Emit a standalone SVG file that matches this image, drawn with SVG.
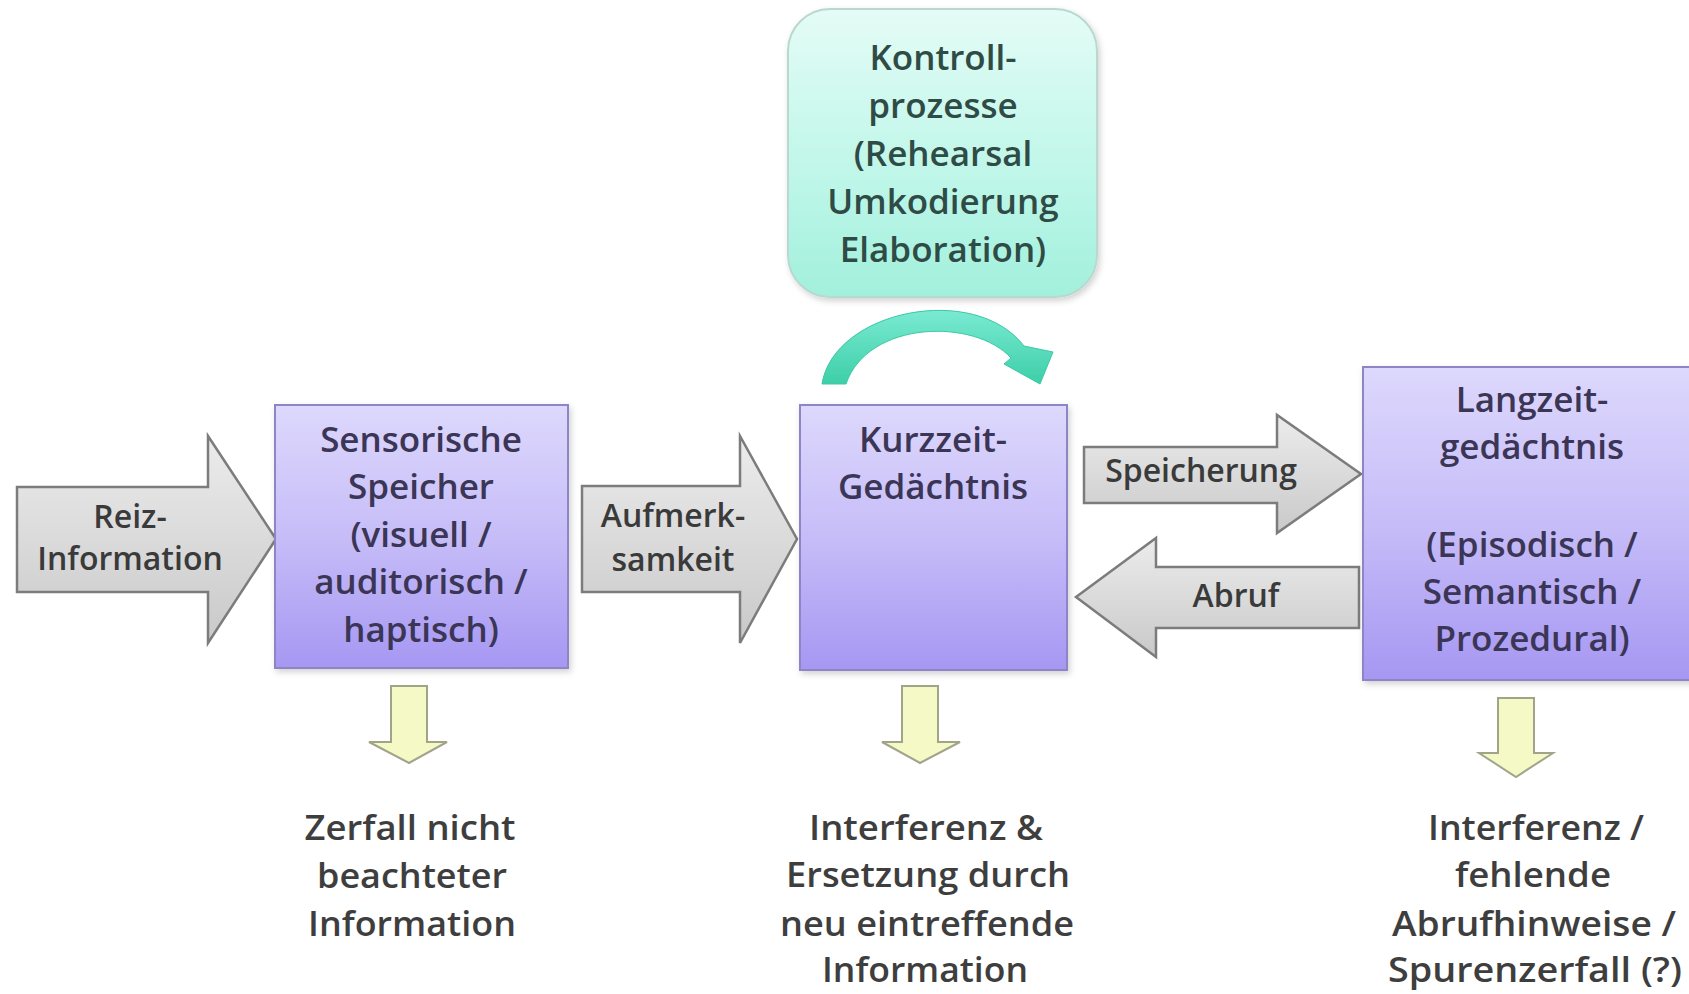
<svg xmlns="http://www.w3.org/2000/svg" width="1689" height="994" viewBox="0 0 1689 994">
<defs>
<linearGradient id="gPurple" x1="0" y1="0" x2="0" y2="1">
<stop offset="0" stop-color="#ddd8fc"/>
<stop offset="0.5" stop-color="#c6bdf8"/>
<stop offset="1" stop-color="#a697f2"/>
</linearGradient>
<linearGradient id="gTeal" x1="0" y1="0" x2="0" y2="1">
<stop offset="0" stop-color="#e4fcf6"/>
<stop offset="0.6" stop-color="#bdf6e8"/>
<stop offset="1" stop-color="#a2f0dc"/>
</linearGradient>
<linearGradient id="gGray" x1="0" y1="0" x2="0" y2="1">
<stop offset="0" stop-color="#ececec"/>
<stop offset="1" stop-color="#c9c9c9"/>
</linearGradient>
<linearGradient id="gCurve" x1="0" y1="0" x2="0" y2="1">
<stop offset="0" stop-color="#7aead2"/>
<stop offset="1" stop-color="#3dcfa8"/>
</linearGradient>
<filter id="shadow" x="-10%" y="-10%" width="120%" height="120%">
<feDropShadow dx="2" dy="3" stdDeviation="3" flood-color="#000" flood-opacity="0.18"/>
</filter>
</defs>
<style>
.box{fill:url(#gPurple);stroke:#8d85c6;stroke-width:2;filter:url(#shadow)}
.ctrl{fill:url(#gTeal);stroke:#b9d8d0;stroke-width:2;filter:url(#shadow)}
.garrow{fill:url(#gGray);stroke:#7c7c7c;stroke-width:2.5;stroke-linejoin:miter}
.yarrow{fill:#f5f9c6;stroke:#a2a48a;stroke-width:2;stroke-linejoin:miter}
.t{font-family:"Open Sans","Noto Sans",sans-serif;font-weight:600;text-anchor:middle}
.tb{fill:#3b3556;font-size:35px}
.tc{fill:#2f4b46;font-size:35px}
.ta{fill:#3a3a3a;font-size:32px}
.tl{fill:#3e3e3e;font-size:35px}
</style>

<g id="connectors">
<path class="garrow" d="M17 487 L208 487 L208 436 L276 539 L208 643 L208 592 L17 592 Z"/>
<path class="garrow" d="M582 486 L740 486 L740 436 L797 539 L740 643 L740 592 L582 592 Z"/>
<path class="garrow" d="M1084 447 L1277 447 L1277 415 L1361 474 L1277 533 L1277 503 L1084 503 Z"/>
<path class="garrow" d="M1359 567 L1156 567 L1156 538 L1076 597 L1156 657 L1156 628 L1359 628 Z"/>
<path fill="url(#gCurve)" stroke="#3cc9a4" stroke-width="1" d="M822 384 C 834 310, 975 282, 1024 346 L1053 352 L1040 384 L1004 364 L1011 358 C 975 318, 868 320, 846 384 Z"/>
<path class="yarrow" d="M391 686 L427 686 L427 742 L447 742 L409 763 L369 742 L391 742 Z"/>
<path class="yarrow" d="M902 686 L938 686 L938 742 L960 742 L920 763 L882 742 L902 742 Z"/>
<path class="yarrow" d="M1498 698 L1534 698 L1534 753 L1553 753 L1516 777 L1479 753 L1498 753 Z"/>
<text class="t ta" x="130" y="528">Reiz-</text>
<text class="t ta" x="130" y="570">Information</text>
<text class="t ta" x="673" y="527" font-size="30">Aufmerk-</text>
<text class="t ta" x="673" y="571" font-size="30">samkeit</text>
<text class="t ta" x="1201" y="482" font-size="33">Speicherung</text>
<text class="t ta" x="1236" y="607" font-size="33">Abruf</text>
</g>

<g id="kontroll">
<rect class="ctrl" x="788" y="9" width="309" height="288" rx="42" ry="42"/>
<text class="t tc" x="943" y="70">Kontroll-</text>
<text class="t tc" x="943" y="118">prozesse</text>
<text class="t tc" x="943" y="166">(Rehearsal</text>
<text class="t tc" x="943" y="214">Umkodierung</text>
<text class="t tc" x="943" y="262">Elaboration)</text>
</g>

<g id="sensorisch">
<rect class="box" x="275" y="405" width="293" height="263"/>
<text class="t tb" x="421" y="452">Sensorische</text>
<text class="t tb" x="421" y="499">Speicher</text>
<text class="t tb" x="421" y="547">(visuell /</text>
<text class="t tb" x="421" y="594">auditorisch /</text>
<text class="t tb" x="421" y="642">haptisch)</text>
</g>

<g id="kurzzeit">
<rect class="box" x="800" y="405" width="267" height="265"/>
<text class="t tb" x="933" y="452">Kurzzeit-</text>
<text class="t tb" x="933" y="499">Gedächtnis</text>
</g>

<g id="langzeit">
<rect class="box" x="1363" y="367" width="340" height="313"/>
<text class="t tb" x="1532" y="412">Langzeit-</text>
<text class="t tb" x="1532" y="459">gedächtnis</text>
<text class="t tb" x="1532" y="557">(Episodisch /</text>
<text class="t tb" x="1532" y="604">Semantisch /</text>
<text class="t tb" x="1532" y="651">Prozedural)</text>
</g>

<g id="zerfall">
<text class="t tl" x="410" y="840" textLength="211" lengthAdjust="spacingAndGlyphs">Zerfall nicht</text>
<text class="t tl" x="412" y="888" textLength="190" lengthAdjust="spacingAndGlyphs">beachteter</text>
<text class="t tl" x="412" y="936" textLength="208" lengthAdjust="spacingAndGlyphs">Information</text>
</g>

<g id="interferenz-kzg">
<text class="t tl" x="926" y="840" textLength="234" lengthAdjust="spacingAndGlyphs">Interferenz &amp;</text>
<text class="t tl" x="928" y="887" textLength="284" lengthAdjust="spacingAndGlyphs">Ersetzung durch</text>
<text class="t tl" x="927" y="936" textLength="294" lengthAdjust="spacingAndGlyphs">neu eintreffende</text>
<text class="t tl" x="925" y="982" textLength="206" lengthAdjust="spacingAndGlyphs">Information</text>
</g>

<g id="interferenz-lzg">
<text class="t tl" x="1536" y="840" textLength="216" lengthAdjust="spacingAndGlyphs">Interferenz /</text>
<text class="t tl" x="1533" y="887" textLength="156" lengthAdjust="spacingAndGlyphs">fehlende</text>
<text class="t tl" x="1534" y="936" textLength="284" lengthAdjust="spacingAndGlyphs">Abrufhinweise /</text>
<text class="t tl" x="1535" y="982" textLength="294" lengthAdjust="spacingAndGlyphs">Spurenzerfall (?)</text>
</g>
</svg>
